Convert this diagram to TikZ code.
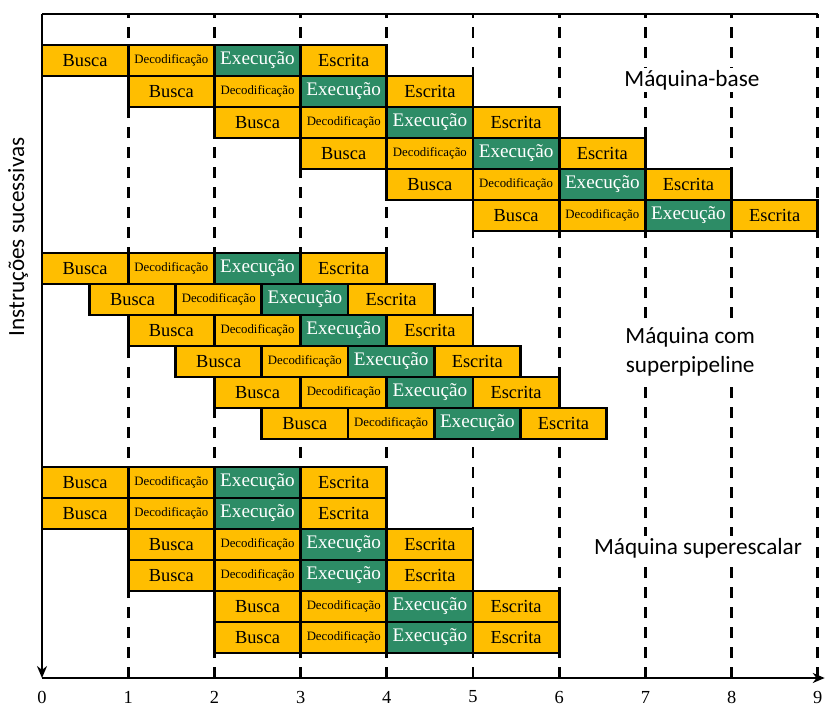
\documentclass[tikz,border=0pt]{standalone}
\usepackage{fontspec}
\setmainfont{Liberation Serif}
\newfontfamily\calibri{Carlito}
\usetikzlibrary{positioning}
\usetikzlibrary{arrows.meta}
\definecolor{ouro}{RGB}{255,190,0}
\definecolor{verde}{RGB}{45,140,102}

\newcommand{\instrucao}[3]{%
  \node[fase, anchor=north west] (#1-b) at (#2,#3) {Busca};
  \node[decod, right=0pt of #1-b] (#1-d) {Decodificação};
  \node[exec, right=0pt of #1-d] (#1-e) {Execução};
  \node[fase, right=0pt of #1-e] (#1-w) {Escrita};
}

\begin{document}
\begin{tikzpicture}[x=43.1pt, y=0.5pt,
  fase/.style={draw, line width=1.4pt, fill=ouro, outer sep=0pt, inner sep=0pt,
    minimum width=43.1pt, minimum height=15.5pt, font=\fontsize{9.2}{10}\selectfont},
  decod/.style={fase, font=\fontsize{6.4}{7}\selectfont},
  exec/.style={fase, fill=verde, text=white, font=\fontsize{9.6}{10}\selectfont},
  grade/.style={line width=1.4pt, dash pattern=on 5.5pt off 4.5pt},
  eixo/.style={line width=1.4pt},
  rotulo/.style={font=\calibri\fontsize{11.6}{14.5}\selectfont, fill=white, inner sep=1pt, align=center},
]
  \useasboundingbox (-21pt,-21pt) rectangle (394pt,339pt);

  \coordinate (o) at (0,0);
  \coordinate (topo) at (0,664);
  \coordinate (fim) at (9,664);
  \coordinate (seta) at (9.08,0);

  % grade de tempo
  \foreach \t in {1,...,9}
    \draw[grade] (\t,0) -- (\t,664);

  % eixos
  \draw[eixo] (topo) -- (fim);
  \draw[eixo, -{Stealth[length=6pt,width=5pt]}] (topo) -- (o);
  \draw[eixo, -{Stealth[length=6pt,width=5pt]}] (o) -- (seta);
  \foreach \t in {0,...,9}
    \node[font=\fontsize{9.2}{10}\selectfont] (n\t) at (\t,-19) {\t};

  % Maquina-base
  \foreach \i in {0,...,5}
    {\instrucao{base\i}{\i}{633-31*\i}}
  % superpipeline
  \foreach \i [evaluate=\i as \c using 0.55*\i-0.1*int(\i/2)] in {0,...,5}
    {\instrucao{sp\i}{\c}{425-31*\i}}
  % superescalar
  \foreach \i [evaluate=\i as \c using int(\i/2)] in {0,...,5}
    {\instrucao{se\i}{\c}{211-31*\i}}

  \node[rotulo] (mbase) at (7.54,598) {Máquina-base};
  \node[rotulo] (msp) at (7.52,326) {Máquina com\\superpipeline};
  \node[rotulo] (mse) at (7.61,130) {Máquina superescalar};
  \node[rotulo, fill=none, rotate=90] (instr) at (-0.278,441) {Instruções sucessivas};

\end{tikzpicture}
\end{document}
